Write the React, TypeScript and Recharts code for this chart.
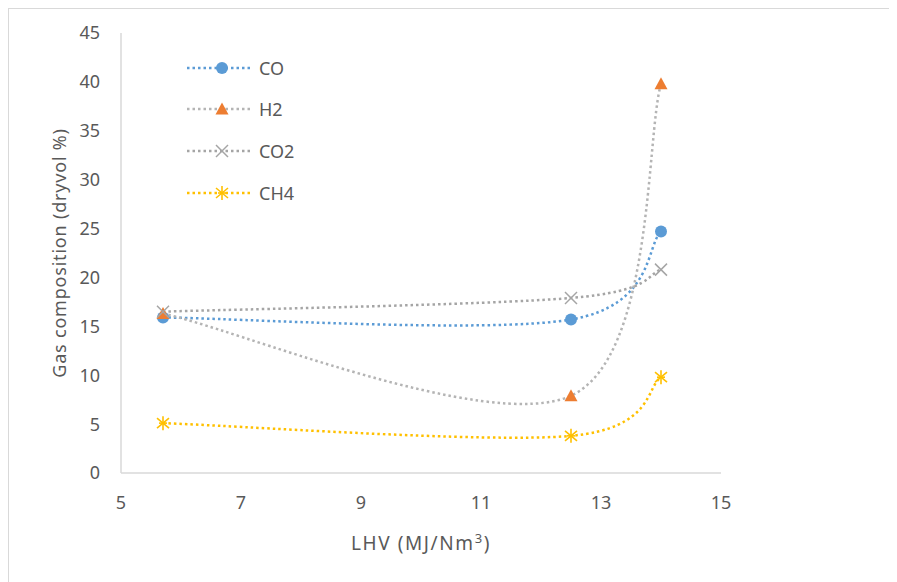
import React from "react";
import { LineChart, Line, XAxis, YAxis } from "recharts";

// LHV values (MJ/Nm3) and gas composition (dry vol %)
const lhv = [5.7, 12.5, 14];
const coValues = [15.9, 15.7, 24.7];
const h2Values = [16.3, 7.9, 39.8];
const co2Values = [16.5, 17.9, 20.8];
const ch4Values = [5.1, 3.8, 9.8];

const xTicks = [5, 7, 9, 11, 13, 15];
const yTicks = [0, 5, 10, 15, 20, 25, 30, 35, 40, 45];

const FONT = "'Noto Sans', sans-serif";
const TEXT = "#595959";

const chartData = lhv.map((x, i) => ({
  lhv: x,
  CO: coValues[i],
  H2: h2Values[i],
  CO2: co2Values[i],
  CH4: ch4Values[i],
}));

type MarkerKind = "circle" | "triangle" | "cross" | "star";

const series: { key: string; line: string; marker: string; kind: MarkerKind }[] = [
  { key: "CO", line: "#5B9BD5", marker: "#5B9BD5", kind: "circle" },
  { key: "H2", line: "#B4B4B4", marker: "#ED7D31", kind: "triangle" },
  { key: "CO2", line: "#A5A5A5", marker: "#A5A5A5", kind: "cross" },
  { key: "CH4", line: "#FFC000", marker: "#FFC000", kind: "star" },
];

// Excel-like smoothed line (Catmull-Rom through the points, as bezier segments)
const smoothCurve: any = (context: any) => {
  let pts: number[][] = [];
  return {
    areaStart() {},
    areaEnd() {},
    lineStart() {
      pts = [];
    },
    point(x: number, y: number) {
      pts.push([x, y]);
    },
    lineEnd() {
      const n = pts.length;
      if (!n) return;
      context.moveTo(pts[0][0], pts[0][1]);
      for (let i = 0; i < n - 1; i++) {
        const p0 = pts[Math.max(i - 1, 0)];
        const p1 = pts[i];
        const p2 = pts[i + 1];
        const p3 = pts[Math.min(i + 2, n - 1)];
        context.bezierCurveTo(
          p1[0] + (p2[0] - p0[0]) / 6,
          p1[1] + (p2[1] - p0[1]) / 6,
          p2[0] - (p3[0] - p1[0]) / 6,
          p2[1] - (p3[1] - p1[1]) / 6,
          p2[0],
          p2[1]
        );
      }
    },
  };
};

function Marker({ cx, cy, kind, color }: { cx: number; cy: number; kind: MarkerKind; color: string }) {
  if (cx == null || cy == null) return null;
  if (kind === "circle") return <circle cx={cx} cy={cy} r={6} fill={color} />;
  if (kind === "triangle")
    return <polygon points={`${cx},${cy - 6.5} ${cx + 6.5},${cy + 5.5} ${cx - 6.5},${cy + 5.5}`} fill={color} />;
  if (kind === "cross")
    return (
      <g stroke={color} strokeWidth={1.5}>
        <line x1={cx - 6} y1={cy - 6} x2={cx + 6} y2={cy + 6} />
        <line x1={cx - 6} y1={cy + 6} x2={cx + 6} y2={cy - 6} />
      </g>
    );
  return (
    <g stroke={color} strokeWidth={1.6}>
      <line x1={cx} y1={cy - 7} x2={cx} y2={cy + 7} />
      <line x1={cx - 6} y1={cy - 5} x2={cx + 6} y2={cy + 5} />
      <line x1={cx - 6} y1={cy + 5} x2={cx + 6} y2={cy - 5} />
      <line x1={cx - 4} y1={cy} x2={cx + 4} y2={cy} />
    </g>
  );
}

function LegendBox() {
  return (
    <div style={{ position: "absolute", left: 178, top: 38, fontFamily: FONT, fontSize: 18, color: TEXT }}>
      {series.map((s) => (
        <div key={s.key} style={{ display: "flex", alignItems: "center", height: 41.6 }}>
          <svg width={72} height={20}>
            <line x1={0} y1={10} x2={63} y2={10} stroke={s.line} strokeWidth={2.5} strokeDasharray="2.5 3" />
            <Marker cx={35} cy={10} kind={s.kind} color={s.marker} />
          </svg>
          <span>{s.key}</span>
        </div>
      ))}
    </div>
  );
}

export default function App() {
  return (
    <div
      style={{
        position: "relative",
        width: 889,
        height: 574,
        borderTop: "1px solid #d9d9d9",
        borderLeft: "1px solid #d9d9d9",
        background: "#fff",
      }}
    >
      <LineChart width={888} height={573} data={chartData} margin={{ top: 24, right: 176, left: 0, bottom: 19 }}>
        <XAxis
          dataKey="lhv"
          type="number"
          domain={[5, 15]}
          ticks={xTicks}
          tickLine={false}
          tickSize={0}
          tickMargin={23}
          height={90}
          axisLine={{ stroke: "#d9d9d9", strokeWidth: 1.5 }}
          tick={{ fill: TEXT, fontSize: 18, fontFamily: FONT }}
          label={{
            content: (props: any) => {
              const vb = props.viewBox;
              return (
                <text
                  x={vb.x + vb.width / 2}
                  y={vb.y + 77}
                  textAnchor="middle"
                  fill={TEXT}
                  fontSize={19}
                  letterSpacing={1.6}
                  fontFamily={FONT}
                >
                  LHV (MJ/Nm
                  <tspan fontSize={13} dy={-7}>3</tspan>
                  <tspan dy={7}>)</tspan>
                </text>
              );
            },
          }}
        />
        <YAxis
          type="number"
          domain={[0, 45]}
          ticks={yTicks}
          width={112}
          tickLine={false}
          tickSize={0}
          tickMargin={21}
          axisLine={{ stroke: "#d9d9d9", strokeWidth: 1.5 }}
          tick={{ fill: TEXT, fontSize: 18, fontFamily: FONT }}
          label={{
            content: (props: any) => {
              const vb = props.viewBox;
              const x = vb.x + 57;
              const y = vb.y + vb.height / 2;
              return (
                <text
                  x={x}
                  y={y}
                  transform={`rotate(-90, ${x}, ${y})`}
                  textAnchor="middle"
                  fill={TEXT}
                  fontSize={18}
                  letterSpacing={0.8}
                  fontFamily={FONT}
                >
                  Gas composition (dryvol %)
                </text>
              );
            },
          }}
        />
        {series.map((s) => (
          <Line
            key={s.key}
            type={smoothCurve}
            dataKey={s.key}
            stroke={s.line}
            strokeWidth={2.5}
            strokeDasharray="2.5 3"
            isAnimationActive={false}
            dot={(p: any) => <Marker key={`${s.key}-${p.index}`} cx={p.cx} cy={p.cy} kind={s.kind} color={s.marker} />}
            activeDot={false}
          />
        ))}
      </LineChart>
      <LegendBox />
    </div>
  );
}
